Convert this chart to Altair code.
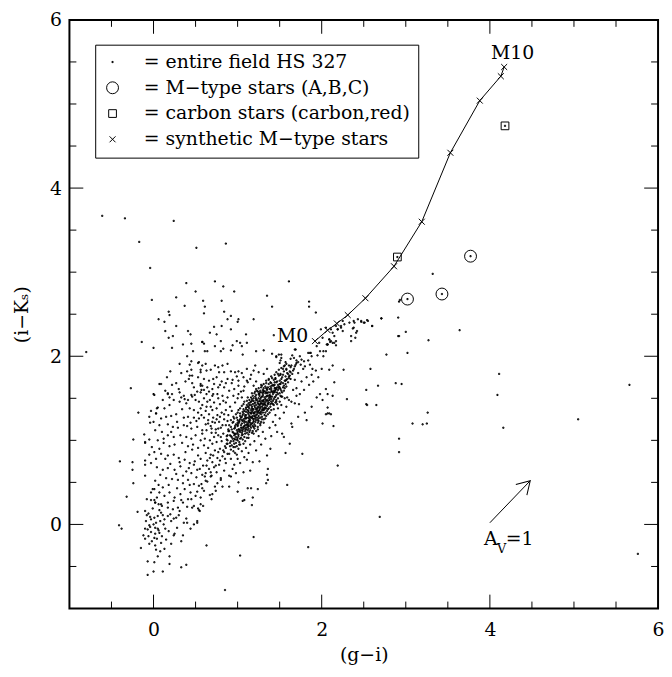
import altair as alt
import pandas as pd

FONT = "DejaVu Serif"

# ---------------- data ----------------
# synthetic M-type stars M0 ... M10
synth_x = [1.92, 2.07, 2.18, 2.31, 2.52, 2.86, 3.19, 3.53, 3.88, 4.13, 4.17]
synth_y = [2.18, 2.31, 2.39, 2.49, 2.69, 3.07, 3.60, 4.42, 5.04, 5.33, 5.44]
# M-type stars (A,B,C)
mtype_x = [3.02, 3.43, 3.77]
mtype_y = [2.68, 2.74, 3.19]
# carbon stars (carbon, red)
carbon_x = [2.90, 4.18]
carbon_y = [3.18, 4.74]

# entire field HS 327 (dots), by region
field_upper = [
    (-0.61, 3.67), (-0.34, 3.64), (0.24, 3.61), (-0.17, 3.36), (0.51, 3.29), (-0.04, 3.05),
    (0.39, 2.87), (0.50, 2.77), (-0.02, 2.67), (0.27, 2.70), (0.37, 2.60), (0.18, 2.53),
    (0.19, 2.49), (0.06, 2.44), (0.13, 2.41), (0.27, 2.36), (0.14, 2.30), (0.41, 2.30),
    (0.44, 2.26), (0.23, 2.24), (0.18, 2.22), (-0.14, 2.17), (0.58, 2.17), (0.45, 2.15),
    (0.35, 2.14), (0.00, 2.10), (0.22, 2.10), (-0.80, 2.05), (0.47, 2.06), (0.40, 2.00),
    (0.45, 1.94), (0.31, 1.91), (0.53, 1.92), (0.43, 1.90), (0.20, 1.82), (0.40, 1.82),
    (0.56, 1.84), (0.45, 1.84), (0.43, 1.77), (0.46, 1.77), (0.16, 1.75), (0.42, 1.73),
    (0.07, 1.67), (0.09, 1.67), (0.46, 1.68), (0.56, 1.67), (-0.27, 1.62), (0.30, 1.61),
    (0.31, 1.57), (0.14, 1.59), (0.17, 1.56), (0.22, 1.55), (0.00, 1.55), (0.36, 1.53),
    (0.45, 1.54), (0.49, 1.54), (0.56, 1.65), (0.57, 1.60),
    (0.86, 3.34), (0.73, 2.89), (0.83, 2.83), (0.96, 2.77), (1.61, 2.89), (1.35, 2.72),
    (0.59, 2.66), (0.81, 2.66), (0.61, 2.59), (1.41, 2.59), (1.85, 2.65), (1.85, 2.59),
    (1.93, 2.52), (0.60, 2.51), (0.84, 2.53), (0.92, 2.48), (0.88, 2.44), (1.01, 2.44),
    (1.00, 2.41), (1.19, 2.44), (0.72, 2.35), (0.81, 2.36), (0.92, 2.32), (0.67, 2.28),
    (0.75, 2.26), (1.10, 2.26), (1.43, 2.25), (0.58, 2.17), (0.60, 2.15), (0.80, 2.18),
    (0.99, 2.18), (1.03, 2.16), (1.11, 2.16), (0.94, 2.13), (1.05, 2.12), (0.73, 2.12),
    (0.61, 2.06), (0.64, 2.06), (0.80, 2.06), (0.83, 2.09), (0.92, 2.07), (1.22, 2.06),
    (1.31, 2.07), (1.41, 2.03), (1.06, 2.02), (1.69, 2.08), (1.87, 2.04), (1.98, 2.06),
    (2.02, 2.06), (2.10, 2.17), (2.06, 2.14), (1.95, 2.01), (2.02, 2.00),
]
field_streak = [
    (1.49, 2.02), (1.52, 1.98), (1.46, 1.99), (1.51, 1.95), (1.50, 1.92), (1.57, 1.93),
    (1.63, 1.97), (1.65, 2.01), (1.67, 1.98), (1.70, 1.95), (1.72, 1.93), (1.69, 1.90),
    (1.75, 1.90), (1.79, 1.94), (1.84, 1.95), (1.80, 1.88), (1.86, 1.90), (1.89, 1.85),
    (1.76, 1.96), (1.61, 1.89), (1.55, 1.88), (1.58, 1.85), (1.62, 1.82), (1.54, 1.78),
    (1.60, 1.79), (1.61, 1.76), (1.52, 1.73), (1.57, 1.71), (1.63, 1.73), (1.46, 1.69),
    (1.50, 1.67), (1.43, 1.65), (1.45, 1.62), (1.40, 1.60), (1.44, 1.57), (1.35, 1.57),
    (1.31, 1.59), (1.30, 1.57), (1.26, 1.55), (2.05, 1.61), (1.98, 1.55), (2.07, 1.55),
    (1.70, 1.62), (1.76, 1.70), (1.82, 1.75), (1.88, 1.78), (1.93, 1.83), (1.74, 1.55),
    (1.79, 1.60), (1.85, 1.66), (1.68, 1.72), (1.72, 1.80), (1.78, 1.85), (1.66, 1.60),
    (1.90, 1.70), (1.96, 1.75), (2.00, 1.85),
    (1.99, 2.32), (2.05, 2.34), (2.11, 2.32), (2.17, 2.36), (2.23, 2.34), (2.27, 2.38),
    (2.33, 2.40), (2.38, 2.42), (2.43, 2.44), (2.47, 2.42), (2.51, 2.40), (2.54, 2.43),
    (2.60, 2.36), (2.71, 2.45), (2.91, 2.46), (2.92, 2.24), (3.00, 2.29), (3.32, 2.98),
    (2.01, 2.22), (2.09, 2.20), (2.13, 2.16), (2.17, 2.18), (2.07, 2.14), (1.97, 2.16),
    (1.94, 2.12), (2.15, 2.24), (2.19, 2.32), (2.25, 2.30), (2.38, 2.34), (2.42, 2.30),
    (2.35, 2.24), (2.40, 2.22), (1.46, 2.00), (1.52, 2.02), (1.68, 2.08), (1.74, 2.00),
    (1.86, 2.04), (1.88, 2.00), (1.84, 2.04),
]
field_right = [
    (2.92, 2.65), (2.93, 2.67), (2.71, 2.45), (2.47, 2.41), (2.50, 2.40), (2.55, 2.42),
    (2.39, 2.40), (2.60, 2.36), (2.37, 2.33), (2.41, 2.28), (2.35, 2.18), (2.25, 2.42),
    (2.23, 2.36), (2.19, 2.32), (2.13, 2.28), (2.09, 2.20), (2.11, 2.18), (2.15, 2.16),
    (2.17, 2.13), (2.07, 2.14), (2.05, 2.06), (2.91, 2.24), (3.27, 2.19), (3.64, 2.31),
    (2.77, 2.02), (3.02, 2.04), (2.09, 1.84), (2.13, 1.89), (2.26, 1.84), (2.58, 1.85),
    (4.11, 1.79), (2.15, 1.69), (2.67, 1.65), (2.88, 1.68), (2.95, 1.67), (2.53, 1.60),
    (4.09, 1.54), (2.13, 1.53), (2.30, 1.49), (5.66, 1.66), (2.53, 1.43), (2.54, 1.42),
    (2.65, 1.42), (2.07, 1.39), (2.07, 1.32), (2.11, 1.31), (3.26, 1.33), (5.05, 1.25),
    (4.16, 1.15), (2.14, 1.17), (3.08, 1.20), (3.20, 1.19), (3.25, 1.20), (2.92, 1.02),
    (2.92, 0.86), (2.19, 0.70), (2.69, 0.09), (5.76, -0.35),
]
field_lower = [
    (1.19, -0.15), (0.63, -0.25), (1.03, -0.37), (1.84, -0.27), (0.85, -0.78), (0.52, 0.02),
    (0.54, 0.17), (0.59, 0.22), (0.69, 0.30), (0.70, 0.36), (1.06, 0.28), (1.08, 0.29),
    (1.17, 0.23), (1.18, 0.32), (1.12, 0.43), (1.16, 0.43), (1.24, 0.42), (1.59, 0.47),
    (1.34, 0.49), (1.36, 0.53), (1.35, 0.59), (1.36, 0.66), (1.00, 0.39), (0.90, 0.45),
    (0.82, 0.45), (0.74, 0.40), (0.98, 0.61), (1.07, 0.62), (1.15, 0.64), (1.01, 0.50),
    (0.92, 0.57), (0.76, 0.49), (0.80, 0.55), (0.68, 0.57), (0.62, 0.61), (1.26, 0.75),
    (1.18, 0.74), (1.11, 0.77), (1.03, 0.73), (0.96, 0.71), (1.57, 0.85), (1.77, 0.84),
    (1.62, 0.96), (1.39, 0.90), (1.35, 0.82), (1.47, 1.10), (1.53, 1.08), (1.55, 1.04),
    (1.64, 1.20), (1.65, 1.16), (1.72, 1.28), (1.82, 1.24), (1.88, 1.40), (1.73, 1.43),
    (1.80, 1.33), (1.94, 1.51), (2.01, 1.48), (2.05, 1.31), (2.01, 1.20), (2.09, 1.32),
    (1.68, 1.44), (1.70, 1.53), (1.59, 1.51), (1.52, 1.52), (1.61, 1.48), (1.64, 1.46),
    (-0.10, 0.16), (-0.06, 0.13), (-0.08, 0.11), (-0.03, 0.06), (-0.05, -0.01), (-0.10, -0.05),
    (-0.07, -0.06), (-0.04, -0.03), (0.00, 0.00), (0.03, 0.02), (0.05, -0.05), (-0.03, -0.09),
    (0.02, -0.11), (0.07, -0.10), (0.01, -0.16), (0.04, -0.17), (0.10, -0.14), (-0.05, -0.23),
    (0.02, -0.25), (0.09, -0.22), (-0.12, -0.13), (-0.10, -0.17), (0.08, -0.32), (0.05, -0.38),
    (0.13, -0.29), (0.21, -0.23), (0.24, -0.13), (0.25, -0.11), (0.35, -0.13), (0.33, -0.20),
    (0.40, 0.02), (0.39, 0.07), (0.48, 0.00), (0.52, 0.04), (0.48, 0.22), (0.53, 0.19),
    (0.55, 0.16), (0.13, 0.06), (0.17, 0.10), (0.12, 0.00), (0.21, 0.04), (0.27, 0.08),
    (0.29, 0.20), (0.31, 0.16), (0.23, 0.18), (0.17, 0.20), (0.09, 0.14), (0.05, 0.10),
    (0.10, 0.22), (-0.15, -0.28), (-0.07, -0.44), (0.01, -0.45), (-0.07, -0.60), (0.00, -0.56),
    (0.11, -0.56), (0.19, -0.38), (0.19, -0.47), (0.33, -0.51), (0.39, -0.48), (-0.41, -0.01),
    (-0.38, -0.05), (-0.19, 0.15), (-0.32, 0.33), (-0.08, 0.30), (-0.03, 0.38), (0.01, 0.29),
    (0.04, 0.32), (0.02, 0.26), (-0.01, 0.42), (-0.02, -0.20), (0.06, -0.07), (-0.09, 0.04),
    (0.01, 0.08), (0.08, 0.04), (-0.06, -0.14), (0.03, -0.30), (0.14, -0.05), (0.11, 0.11),
    (0.15, -0.18), (-0.01, 0.19), (0.06, 0.24), (0.18, -0.08), (0.28, -0.04), (0.20, 0.12),
    (0.02, -0.04), (-0.04, 0.09), (0.07, 0.17),
]
field_mid = [
    (0.01, 1.54), (0.17, 1.55), (0.19, 1.51), (0.33, 1.51), (0.37, 1.49), (0.46, 1.52),
    (0.50, 1.48), (0.54, 1.46), (0.41, 1.48), (0.31, 1.46), (0.24, 1.48), (0.39, 1.44),
    (0.05, 1.39), (0.13, 1.38), (0.03, 1.32), (0.09, 1.26), (0.15, 1.28), (0.21, 1.29),
    (0.27, 1.31), (0.34, 1.37), (0.43, 1.38), (0.48, 1.36), (0.53, 1.33), (0.56, 1.38),
    (0.41, 1.28), (0.48, 1.27), (0.54, 1.26), (0.17, 1.19), (0.23, 1.16), (0.29, 1.15),
    (0.36, 1.18), (0.40, 1.17), (0.45, 1.14), (0.52, 1.16), (0.58, 1.12), (0.02, 1.12),
    (0.10, 1.10), (0.17, 1.06), (0.24, 1.04), (0.32, 1.06), (0.39, 1.04), (0.45, 1.02),
    (0.50, 1.06), (0.56, 1.00), (-0.05, 1.01), (0.05, 1.00), (0.12, 0.97), (0.19, 0.93),
    (0.25, 0.95), (0.34, 0.97), (0.41, 0.93), (0.46, 0.89), (0.53, 0.91), (-0.10, 0.97),
    (-0.05, 0.83), (0.01, 0.86), (0.09, 0.84), (0.17, 0.82), (0.24, 0.83), (0.30, 0.79),
    (0.37, 0.77), (0.43, 0.73), (0.49, 0.75), (0.56, 0.78), (-0.03, 0.73), (0.04, 0.68),
    (0.11, 0.65), (0.17, 0.67), (0.25, 0.65), (0.32, 0.69), (0.39, 0.63), (0.45, 0.61),
    (0.52, 0.65), (0.58, 0.59), (0.08, 0.59), (0.15, 0.55), (0.22, 0.54), (0.29, 0.53),
    (0.35, 0.49), (0.41, 0.53), (0.48, 0.48), (0.54, 0.46), (0.01, 0.42), (0.07, 0.38),
    (0.13, 0.34), (0.19, 0.38), (0.25, 0.32), (0.32, 0.36), (0.37, 0.42), (0.44, 0.38),
    (0.50, 0.34), (-0.03, 0.29), (0.02, 0.26), (0.09, 0.24), (0.17, 0.26), (0.24, 0.28),
    (0.35, 0.26), (0.41, 0.30), (0.46, 0.20), (0.56, 0.24),
    (-0.40, 0.75), (-0.24, 1.01), (-0.18, 1.33), (-0.25, 0.74), (-0.25, 0.65), (-0.24, 0.49),
    (-0.10, 0.98), (-0.11, 1.07), (-0.10, 0.76), (-0.10, 0.71), (-0.10, 0.58), (-0.05, 1.28),
    (-0.04, 1.21), (-0.03, 1.35), (0.03, 1.32), (0.04, 1.38),
    (0.60, 1.50), (0.64, 1.46), (0.58, 1.42), (0.68, 1.40), (0.72, 1.45), (0.62, 1.35),
    (0.66, 1.31), (0.70, 1.36), (0.75, 1.38), (0.79, 1.43), (0.83, 1.47), (0.60, 1.27),
    (0.65, 1.24), (0.71, 1.27), (0.76, 1.30), (0.81, 1.33), (0.86, 1.36), (0.62, 1.19),
    (0.68, 1.17), (0.73, 1.21), (0.78, 1.22), (0.84, 1.25), (0.58, 1.08), (0.63, 1.12),
    (0.69, 1.09), (0.74, 1.13), (0.80, 1.15), (0.86, 1.18), (0.61, 1.02), (0.67, 1.00),
    (0.72, 1.04), (0.77, 1.06), (0.83, 1.08), (0.89, 1.11), (0.60, 0.94), (0.65, 0.91),
    (0.70, 0.96), (0.75, 0.98), (0.81, 0.99), (0.62, 0.85), (0.68, 0.83), (0.73, 0.88),
    (0.79, 0.90), (0.85, 0.93), (0.64, 0.76), (0.70, 0.74), (0.76, 0.79), (0.82, 0.81),
    (0.88, 0.84), (0.59, 0.70), (0.66, 0.66), (0.72, 0.68), (0.78, 0.71), (0.86, 0.73),
    (0.61, 0.57), (0.69, 0.58), (0.75, 0.62), (0.84, 0.64), (0.57, 0.48), (0.64, 0.51),
    (0.73, 0.45), (0.80, 0.53), (0.60, 0.40), (0.67, 0.35), (0.56, 0.32), (0.92, 0.78),
    (0.94, 0.66), (0.90, 0.58), (0.97, 0.85), (0.88, 1.00), (0.92, 1.05),
    (0.54, 1.93), (0.58, 1.89), (0.62, 1.91), (0.56, 1.81), (0.63, 1.83), (0.68, 1.84),
    (0.73, 1.89), (0.77, 1.87), (0.82, 1.89), (0.88, 1.91), (0.78, 1.81), (0.84, 1.81),
    (0.92, 1.82), (0.97, 1.81), (1.01, 1.82), (0.53, 1.75), (0.60, 1.73), (0.66, 1.71),
    (0.71, 1.73), (0.75, 1.75), (0.81, 1.70), (0.88, 1.73), (0.93, 1.68), (1.01, 1.71),
    (1.07, 1.75), (1.11, 1.71), (0.58, 1.65), (0.64, 1.63), (0.70, 1.61), (0.77, 1.63),
    (0.84, 1.63), (0.90, 1.59), (0.96, 1.61), (1.01, 1.65), (1.07, 1.59), (0.56, 1.57),
    (0.63, 1.55), (0.70, 1.53), (0.76, 1.55), (0.82, 1.53), (0.88, 1.51), (0.95, 1.53),
    (1.01, 1.55), (1.05, 1.51), (1.21, 1.89), (1.25, 1.81), (1.15, 1.73), (1.22, 1.70),
    (1.11, 1.85), (1.31, 1.79), (1.35, 1.85), (1.37, 1.73), (1.29, 1.65), (1.19, 1.65),
    (1.23, 1.59), (1.35, 1.61),
    (0.99, 0.83), (1.05, 0.87), (1.10, 0.91), (1.15, 0.95), (1.20, 0.99), (1.02, 0.95),
    (1.08, 0.80), (1.13, 0.85), (1.22, 0.88), (1.28, 0.95), (0.95, 0.92), (1.00, 0.78),
    (1.25, 1.05), (1.30, 1.10), (1.38, 1.15), (1.42, 1.22), (1.45, 1.30), (1.48, 1.38),
    (1.52, 1.42), (1.56, 1.50), (1.33, 1.02), (1.40, 1.05), (1.45, 1.18), (1.50, 1.26),
    (1.55, 1.33), (1.58, 1.40),
]
field_halo = [
    (0.35, 0.58), (0.42, 0.67), (0.48, 0.71), (0.53, 0.82), (0.47, 0.95), (0.38, 0.86),
    (0.31, 0.74), (0.27, 0.60), (0.20, 0.72), (0.14, 0.78), (0.07, 0.90), (0.12, 1.02),
    (0.21, 1.10), (0.28, 1.22), (0.36, 1.27), (0.44, 1.21), (0.51, 1.23), (0.57, 1.30),
    (0.63, 1.40), (0.67, 1.48), (0.71, 1.55), (0.77, 1.50), (0.86, 1.45), (0.91, 1.40),
    (0.89, 1.30), (0.93, 1.35), (0.97, 1.45), (1.00, 1.50), (1.04, 1.58), (1.08, 1.64),
    (1.12, 1.69), (1.16, 1.78), (1.19, 1.83), (1.05, 1.80), (0.99, 1.76), (0.94, 1.72),
    (0.86, 1.68), (0.79, 1.66), (0.72, 1.67), (0.66, 1.58), (0.60, 1.60), (0.52, 1.58),
    (0.48, 1.63), (0.38, 1.70), (0.33, 1.80), (0.27, 1.68), (0.22, 1.66), (0.19, 1.42),
    (0.11, 1.48), (0.07, 1.18), (0.00, 1.22), (-0.02, 0.92), (0.03, 0.78), (0.02, 0.52),
    (0.06, 0.47), (0.11, 0.44), (0.18, 0.47), (0.28, 0.43), (0.33, 0.29), (0.43, 0.47),
    (0.51, 0.56), (0.55, 0.66), (0.63, 0.70), (0.67, 0.79), (0.71, 0.82), (0.77, 0.86),
    (0.83, 0.88), (0.87, 0.96), (0.80, 1.04), (0.74, 1.09), (0.69, 1.14), (0.65, 1.20),
    (0.70, 1.22), (0.75, 1.25), (0.79, 1.28), (0.84, 1.31), (0.88, 1.23), (0.82, 1.18),
    (0.77, 1.14), (0.87, 1.05), (0.91, 0.93), (0.85, 0.78), (0.79, 0.76), (0.74, 0.70),
    (0.68, 0.62), (0.62, 0.52), (0.58, 0.43), (0.52, 0.39), (0.45, 0.30), (0.40, 0.21),
    (0.30, 0.11), (0.24, 0.07), (0.36, 0.02), (0.44, -0.05),
]
field_core = [
    (0.84, 0.86), (0.90, 0.84), (0.95, 0.87), (0.86, 0.91), (0.92, 0.89), (0.97, 0.92),
    (1.01, 0.90), (0.88, 0.96), (0.93, 0.94), (0.98, 0.97), (1.03, 0.95), (0.95, 0.99),
    (0.87, 1.01), (0.92, 0.99), (0.96, 1.02), (1.00, 1.00), (1.04, 1.03), (1.09, 0.99),
    (0.98, 1.04), (0.88, 1.06), (0.93, 1.04), (0.97, 1.07), (1.01, 1.05), (1.05, 1.06),
    (1.08, 1.04), (1.13, 1.07), (0.99, 1.08), (1.11, 1.03), (0.90, 1.11), (0.95, 1.09),
    (0.99, 1.12), (1.03, 1.10), (1.06, 1.11), (1.09, 1.08), (1.12, 1.12), (1.17, 1.09),
    (1.01, 1.13), (1.14, 1.10), (0.97, 1.08), (0.92, 1.16), (0.96, 1.14), (1.00, 1.17),
    (1.04, 1.15), (1.07, 1.16), (1.10, 1.13), (1.13, 1.17), (1.16, 1.15), (1.20, 1.14),
    (1.02, 1.13), (1.09, 1.18), (1.18, 1.17), (1.24, 1.16), (0.94, 1.21), (0.98, 1.19),
    (1.02, 1.22), (1.05, 1.20), (1.08, 1.21), (1.11, 1.18), (1.14, 1.22), (1.17, 1.20),
    (1.20, 1.19), (1.24, 1.21), (1.06, 1.23), (1.13, 1.19), (1.19, 1.23), (1.27, 1.20),
    (1.00, 1.18), (0.96, 1.26), (1.00, 1.24), (1.04, 1.27), (1.07, 1.25), (1.10, 1.26),
    (1.13, 1.23), (1.16, 1.27), (1.19, 1.25), (1.22, 1.24), (1.25, 1.26), (1.29, 1.25),
    (1.09, 1.28), (1.15, 1.24), (1.21, 1.28), (1.33, 1.26), (1.02, 1.23), (0.98, 1.31),
    (1.03, 1.29), (1.07, 1.32), (1.10, 1.30), (1.13, 1.31), (1.16, 1.28), (1.19, 1.32),
    (1.22, 1.30), (1.25, 1.29), (1.28, 1.31), (1.32, 1.30), (1.12, 1.33), (1.18, 1.29),
    (1.24, 1.33), (1.36, 1.31), (1.05, 1.28), (1.30, 1.33), (1.01, 1.36), (1.06, 1.34),
    (1.10, 1.37), (1.13, 1.35), (1.16, 1.36), (1.19, 1.33), (1.22, 1.37), (1.25, 1.35),
    (1.28, 1.34), (1.31, 1.36), (1.35, 1.35), (1.40, 1.36), (1.14, 1.38), (1.21, 1.34),
    (1.27, 1.38), (1.33, 1.33), (1.08, 1.35), (1.05, 1.41), (1.10, 1.39), (1.14, 1.42),
    (1.17, 1.40), (1.20, 1.41), (1.23, 1.38), (1.26, 1.42), (1.29, 1.40), (1.32, 1.39),
    (1.35, 1.41), (1.39, 1.40), (1.43, 1.42), (1.18, 1.43), (1.25, 1.39), (1.31, 1.43),
    (1.37, 1.38), (1.12, 1.40), (1.08, 1.46), (1.13, 1.44), (1.17, 1.47), (1.21, 1.45),
    (1.24, 1.46), (1.27, 1.43), (1.30, 1.47), (1.33, 1.45), (1.36, 1.44), (1.40, 1.46),
    (1.45, 1.45), (1.22, 1.48), (1.29, 1.44), (1.35, 1.48), (1.42, 1.43), (1.15, 1.45),
    (1.12, 1.51), (1.17, 1.49), (1.21, 1.52), (1.25, 1.50), (1.28, 1.51), (1.31, 1.48),
    (1.34, 1.52), (1.37, 1.50), (1.40, 1.49), (1.44, 1.51), (1.48, 1.50), (1.26, 1.53),
    (1.33, 1.49), (1.39, 1.53), (1.46, 1.48), (1.17, 1.56), (1.22, 1.54), (1.26, 1.57),
    (1.30, 1.55), (1.33, 1.56), (1.36, 1.53), (1.39, 1.57), (1.42, 1.55), (1.46, 1.54),
    (1.50, 1.56), (1.31, 1.58), (1.38, 1.54), (1.44, 1.58), (1.22, 1.61), (1.27, 1.59),
    (1.31, 1.62), (1.35, 1.60), (1.38, 1.61), (1.41, 1.58), (1.44, 1.62), (1.48, 1.60),
    (1.52, 1.59), (1.36, 1.63), (1.43, 1.59), (1.50, 1.63), (1.28, 1.66), (1.33, 1.64),
    (1.37, 1.67), (1.41, 1.65), (1.44, 1.66), (1.47, 1.63), (1.51, 1.67), (1.55, 1.65),
    (1.40, 1.68), (1.49, 1.64), (1.34, 1.71), (1.39, 1.69), (1.43, 1.72), (1.47, 1.70),
    (1.50, 1.71), (1.54, 1.68), (1.58, 1.72), (1.45, 1.73), (1.52, 1.69), (1.40, 1.76),
    (1.45, 1.74), (1.49, 1.77), (1.53, 1.75), (1.57, 1.76), (1.61, 1.74), (1.51, 1.78),
    (1.46, 1.81), (1.51, 1.79), (1.55, 1.82), (1.59, 1.80), (1.63, 1.81), (1.52, 1.86),
    (1.58, 1.84), (1.63, 1.87), (1.67, 1.85), (1.58, 1.91), (1.64, 1.89), (1.70, 1.92),
    (1.04, 1.18), (1.08, 1.23), (1.11, 1.27), (1.15, 1.21), (1.18, 1.26), (1.21, 1.22),
    (1.23, 1.31), (1.26, 1.36), (1.29, 1.28), (1.15, 1.33), (1.17, 1.38), (1.20, 1.44),
    (1.24, 1.40), (1.27, 1.46), (1.30, 1.42), (1.34, 1.47), (1.32, 1.37), (1.36, 1.43),
    (1.38, 1.48), (1.41, 1.52), (1.29, 1.52), (1.33, 1.58), (1.37, 1.57), (1.40, 1.62),
    (1.46, 1.61), (1.42, 1.66), (1.10, 1.15), (1.06, 1.13), (1.13, 1.14), (1.19, 1.16),
    (1.23, 1.27), (1.12, 1.36), (1.09, 1.30), (1.16, 1.42), (1.22, 1.50), (1.25, 1.55),
    (1.28, 1.57), (1.35, 1.53), (1.47, 1.57), (1.19, 1.47), (1.27, 1.33), (1.31, 1.25),
    (1.05, 1.09), (1.01, 1.07), (0.97, 1.01), (1.13, 1.03), (1.18, 1.11), (1.24, 1.13),
    (1.27, 1.18), (1.34, 1.29), (1.38, 1.33), (1.43, 1.37), (1.47, 1.43), (1.50, 1.46),
    (1.53, 1.52), (1.55, 1.59), (1.58, 1.64), (1.60, 1.69), (1.56, 1.71), (1.48, 1.66),
    (1.44, 1.69), (1.39, 1.64), (1.34, 1.62), (1.30, 1.60), (1.24, 1.58), (1.20, 1.56),
    (1.16, 1.51), (1.11, 1.47), (1.07, 1.43), (1.03, 1.38), (1.00, 1.33), (0.95, 1.28),
    (0.92, 1.24), (0.90, 1.18), (0.89, 1.13),
]
field_core2 = [
    (0.91, 0.97), (0.94, 1.02), (0.99, 0.93), (1.02, 0.98), (1.06, 1.01), (1.07, 0.96),
    (0.96, 1.06), (1.00, 1.10), (1.04, 1.12), (1.08, 1.14), (1.11, 1.09), (1.15, 1.12),
    (1.19, 1.08), (1.22, 1.11), (0.93, 1.13), (0.97, 1.17), (1.01, 1.20), (1.05, 1.24),
    (1.09, 1.26), (1.12, 1.21), (1.16, 1.19), (1.21, 1.17), (1.25, 1.23), (1.28, 1.22),
    (1.31, 1.21), (0.95, 1.22), (0.99, 1.27), (1.03, 1.32), (1.07, 1.37), (1.11, 1.42),
    (1.14, 1.29), (1.17, 1.34), (1.20, 1.29), (1.23, 1.34), (1.26, 1.32), (1.29, 1.36),
    (1.33, 1.39), (1.36, 1.37), (1.39, 1.43), (1.42, 1.47), (1.45, 1.52), (1.48, 1.55),
    (1.51, 1.61), (1.54, 1.63), (1.57, 1.67), (1.59, 1.73), (1.62, 1.77), (1.65, 1.79),
    (1.66, 1.83), (1.68, 1.88), (1.14, 1.48), (1.18, 1.53), (1.21, 1.58), (1.25, 1.62),
    (1.28, 1.63), (1.31, 1.67), (1.34, 1.68), (1.37, 1.72), (1.41, 1.74), (1.44, 1.78),
    (1.48, 1.79), (1.49, 1.84), (1.54, 1.85), (1.56, 1.89), (1.27, 1.49), (1.30, 1.53),
    (1.32, 1.51), (1.35, 1.56), (1.37, 1.45), (1.41, 1.44), (1.43, 1.49), (1.46, 1.46),
    (1.39, 1.51), (1.42, 1.57), (1.45, 1.60), (1.49, 1.62), (1.51, 1.53), (1.53, 1.57),
    (1.56, 1.62), (1.18, 1.36), (1.21, 1.39), (1.24, 1.44), (1.23, 1.48), (1.19, 1.50),
    (1.16, 1.46), (1.13, 1.40), (1.10, 1.34), (1.06, 1.30), (1.03, 1.25), (1.00, 1.21),
    (0.97, 1.15), (0.94, 1.10), (0.91, 1.06), (1.14, 1.26), (1.16, 1.32), (1.19, 1.37),
    (1.22, 1.42), (1.26, 1.47), (1.29, 1.47), (1.32, 1.43), (1.34, 1.38), (1.30, 1.38),
    (1.27, 1.40), (1.23, 1.36), (1.20, 1.32), (1.17, 1.27), (1.14, 1.24), (1.11, 1.19),
    (1.08, 1.17), (1.05, 1.15), (1.02, 1.11), (1.10, 1.22), (1.13, 1.27), (1.16, 1.32),
    (1.25, 1.43), (1.28, 1.44), (1.31, 1.46), (1.38, 1.52), (1.36, 1.47), (1.33, 1.42),
    (1.30, 1.36), (1.27, 1.27), (1.24, 1.24), (1.21, 1.26), (1.18, 1.21), (1.15, 1.17),
    (1.12, 1.16), (1.09, 1.11), (1.06, 1.07), (1.03, 1.02), (1.00, 1.03), (0.96, 0.96),
    (0.99, 1.01),
]

# reddening vector A_V = 1 (tail -> tip)
arrow_x = [4.00, 4.48]
arrow_y = [0.02, 0.52]

# axis tick positions
major_ticks = [0, 2, 4]
minor_ticks = [-0.5, 0.5, 1, 1.5, 2.5, 3, 3.5, 4.5, 5, 5.5]
tick_labels = [0, 2, 4, 6]

K_FIELD = "= entire field HS 327"
K_M = "= M\u2212type stars (A,B,C)"
K_C = "= carbon stars (carbon,red)"
K_S = "= synthetic M\u2212type stars"
kinds = [K_FIELD, K_M, K_C, K_S]
shapes = [
    "M-0.1,-0.1L0.1,-0.1L0.1,0.1L-0.1,0.1Z",
    "circle",
    "M-0.65,-0.65L0.65,-0.65L0.65,0.65L-0.65,0.65Z",
    "M-0.5,-0.5L0.5,0.5M-0.5,0.5L0.5,-0.5",
]

# ---------------- build tables ----------------
field = (field_upper + field_streak + field_right + field_lower + field_mid + field_halo
         + field_core + field_core2)
field = field + list(zip(mtype_x, mtype_y)) + list(zip(carbon_x, carbon_y))
rows = [{"x": a, "y": b, "kind": K_FIELD} for a, b in field]
rows += [{"x": a, "y": b, "kind": K_M} for a, b in zip(mtype_x, mtype_y)]
rows += [{"x": a, "y": b, "kind": K_C} for a, b in zip(carbon_x, carbon_y)]
rows += [{"x": a, "y": b, "kind": K_S} for a, b in zip(synth_x, synth_y)]
pts = pd.DataFrame(rows)
synth = pd.DataFrame({"x": synth_x, "y": synth_y})
arrow = pd.DataFrame({"x": arrow_x, "y": arrow_y})

W = H = 594
xs = alt.Scale(domain=[-1, 6], nice=False, zero=False)
ys = alt.Scale(domain=[-1, 6], nice=False, zero=False)
xaxis = alt.Axis(values=tick_labels, ticks=False, domain=False, grid=False,
                 labelFont=FONT, labelFontSize=19, labelColor="black", labelPadding=12,
                 labelFlush=False, title="(g\u2212i)", titleFont=FONT, titleFontSize=19,
                 titleFontWeight="normal", titleColor="black", titlePadding=6)
yaxis = alt.Axis(values=tick_labels, ticks=False, domain=False, grid=False,
                 labelFont=FONT, labelFontSize=19, labelColor="black", labelPadding=8,
                 labelFlush=False, title="(i\u2212K\u209b)", titleFont=FONT, titleFontSize=19,
                 titleFontWeight="normal", titleColor="black", titlePadding=18)


def X(f="x:Q"):
    return alt.X(f, scale=xs, axis=xaxis)


def Y(f="y:Q"):
    return alt.Y(f, scale=ys, axis=yaxis)


def ticks(vals, length):
    d = pd.DataFrame({"v": vals})
    r = alt.Chart(d).mark_rule(color="black", strokeWidth=1)
    return [
        r.encode(x=X("v:Q"), y=alt.value(H), y2=alt.value(H - length)),
        r.encode(x=X("v:Q"), y=alt.value(0), y2=alt.value(length)),
        r.encode(y=Y("v:Q"), x=alt.value(0), x2=alt.value(length)),
        r.encode(y=Y("v:Q"), x=alt.value(W), x2=alt.value(W - length)),
    ]


tick_layers = ticks(major_ticks, 14) + ticks(minor_ticks, 7)

line = alt.Chart(synth).mark_line(color="black", strokeWidth=1, interpolate="linear").encode(
    x=X(), y=Y())

points = alt.Chart(pts).mark_point(filled=False, color="black", strokeWidth=1, size=144,
                                   opacity=1).encode(
    x=X(), y=Y(),
    shape=alt.Shape("kind:N", scale=alt.Scale(domain=kinds, range=shapes),
                    legend=alt.Legend(title=None, orient="none", legendX=26, legendY=25,
                                      padding=8, strokeColor="black", fillColor="white",
                                      labelFont=FONT, labelFontSize=19, labelColor="black",
                                      labelOffset=22, labelLimit=600, rowPadding=6,
                                      symbolSize=144, symbolStrokeColor="black",
                                      symbolStrokeWidth=1)),
)

arrow_line = alt.Chart(arrow).mark_line(color="black", strokeWidth=1).encode(x=X(), y=Y())
arrow_head = alt.Chart(arrow.tail(1)).mark_point(
    shape="M-0.6,1L0,0L0.6,1", size=666, angle=44, filled=False, color="black",
    strokeWidth=1, opacity=1).encode(x=X(), y=Y())


def label(text, x, y, size, align):
    d = pd.DataFrame({"x": [x], "y": [y], "t": [text]})
    return alt.Chart(d).mark_text(font=FONT, fontSize=size, align=align,
                                  baseline="alphabetic", color="black").encode(
        x=X(), y=Y(), text="t:N")


texts = [
    label("M0", 1.84, 2.165, 19, "right"),
    label("M10", 4.27, 5.54, 19, "center"),
    label("A", 3.93, -0.25, 19, "left"),
    label("V", 4.085, -0.34, 13, "left"),
    label("=1", 4.19, -0.25, 19, "left"),
]

chart = alt.layer(*tick_layers, line, points, arrow_line, arrow_head, *texts).properties(
    width=W, height=H,
    padding={"left": 62, "top": 9, "right": 6, "bottom": 56},
    autosize=alt.AutoSizeParams(type="none"),
).configure_view(stroke="black", strokeWidth=2).configure_legend(
    labelFont=FONT, labelFontSize=19, labelColor="black"
)

chart.save("out.html", embed_options={"renderer": "svg", "actions": False})
